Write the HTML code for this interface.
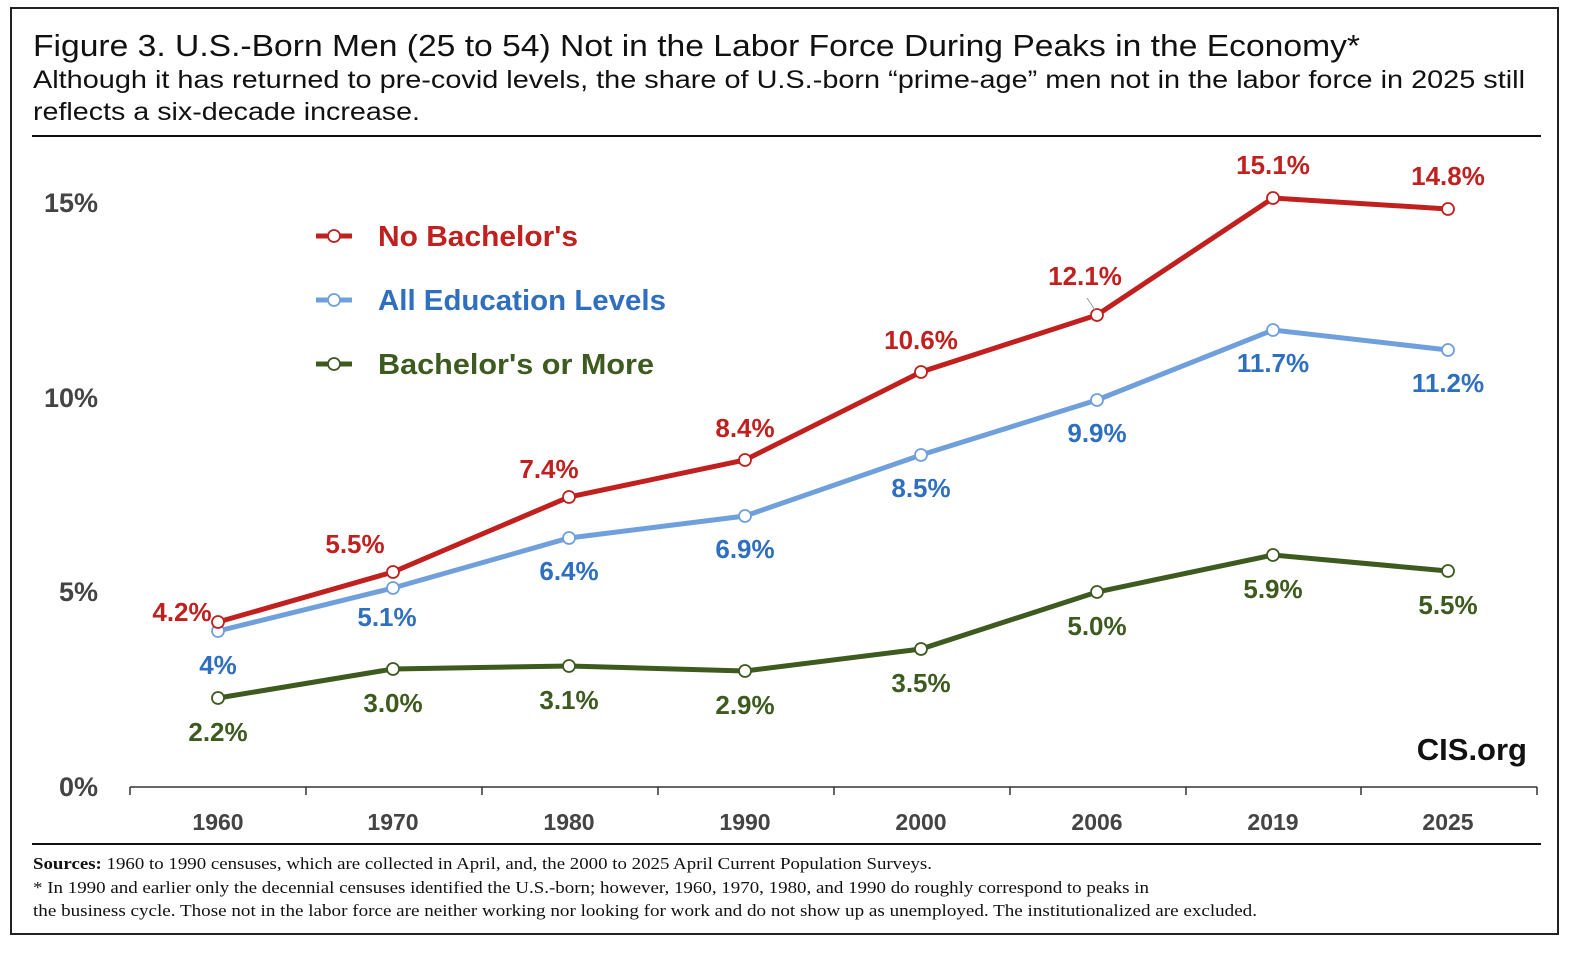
<!DOCTYPE html>
<html><head><meta charset="utf-8"><style>
html,body{margin:0;padding:0;background:#fff;}
</style></head><body>
<svg width="1574" height="948" xmlns="http://www.w3.org/2000/svg" font-family="Liberation Sans, sans-serif">
<rect x="0" y="0" width="1574" height="948" fill="#fff"/>
<rect x="11" y="8" width="1547" height="926" fill="none" stroke="#222" stroke-width="2"/>
<text x="33" y="56" font-size="31" fill="#111" textLength="1327" lengthAdjust="spacingAndGlyphs">Figure 3. U.S.-Born Men (25 to 54) Not in the Labor Force During Peaks in the Economy*</text>
<text x="33" y="88" font-size="25" fill="#111" textLength="1492" lengthAdjust="spacingAndGlyphs">Although it has returned to pre-covid levels, the share of U.S.-born “prime-age” men not in the labor force in 2025 still</text>
<text x="33" y="120" font-size="25" fill="#111" textLength="387" lengthAdjust="spacingAndGlyphs">reflects a six-decade increase.</text>
<line x1="32" y1="136" x2="1541" y2="136" stroke="#111" stroke-width="2"/>
<g font-size="27" font-weight="bold" fill="#444" text-anchor="end">
<text x="98" y="212">15%</text><text x="98" y="407">10%</text><text x="98" y="601">5%</text><text x="98" y="796">0%</text>
</g>
<line x1="130" y1="787" x2="1537" y2="787" stroke="#333" stroke-width="1.5"/>
<g stroke="#333" stroke-width="1.5">
<line x1="130" y1="787" x2="130" y2="795"/><line x1="306" y1="787" x2="306" y2="795"/><line x1="482" y1="787" x2="482" y2="795"/><line x1="658" y1="787" x2="658" y2="795"/><line x1="834" y1="787" x2="834" y2="795"/><line x1="1010" y1="787" x2="1010" y2="795"/><line x1="1186" y1="787" x2="1186" y2="795"/><line x1="1361" y1="787" x2="1361" y2="795"/><line x1="1537" y1="787" x2="1537" y2="795"/>
</g>
<g font-size="23" font-weight="bold" fill="#444" text-anchor="middle">
<text x="218" y="830">1960</text><text x="393" y="830">1970</text><text x="569" y="830">1980</text><text x="745" y="830">1990</text><text x="921" y="830">2000</text><text x="1097" y="830">2006</text><text x="1273" y="830">2019</text><text x="1448" y="830">2025</text>
</g>
<polyline fill="none" stroke="#3d5a1f" stroke-width="5" points="218,698 393,669 569,666 745,671 921,649 1097,592 1273,555 1448,571"/>
<polyline fill="none" stroke="#6fa0dc" stroke-width="5" points="218,631 393,588 569,538 745,516 921,455 1097,400 1273,330 1448,350"/>
<polyline fill="none" stroke="#c0201e" stroke-width="5" points="218,622 393,572 569,497 745,460 921,372 1097,315 1273,198 1448,209"/>
<g fill="#fff" stroke-width="1.8">
<g stroke="#3d5a1f"><circle cx="218" cy="698" r="6"/><circle cx="393" cy="669" r="6"/><circle cx="569" cy="666" r="6"/><circle cx="745" cy="671" r="6"/><circle cx="921" cy="649" r="6"/><circle cx="1097" cy="592" r="6"/><circle cx="1273" cy="555" r="6"/><circle cx="1448" cy="571" r="6"/></g>
<g stroke="#6fa0dc"><circle cx="218" cy="631" r="6"/><circle cx="393" cy="588" r="6"/><circle cx="569" cy="538" r="6"/><circle cx="745" cy="516" r="6"/><circle cx="921" cy="455" r="6"/><circle cx="1097" cy="400" r="6"/><circle cx="1273" cy="330" r="6"/><circle cx="1448" cy="350" r="6"/></g>
<g stroke="#c0201e"><circle cx="218" cy="622" r="6"/><circle cx="393" cy="572" r="6"/><circle cx="569" cy="497" r="6"/><circle cx="745" cy="460" r="6"/><circle cx="921" cy="372" r="6"/><circle cx="1097" cy="315" r="6"/><circle cx="1273" cy="198" r="6"/><circle cx="1448" cy="209" r="6"/></g>
</g>
<line x1="1087" y1="298" x2="1095" y2="310" stroke="#999" stroke-width="1"/>
<g font-size="26" font-weight="bold" text-anchor="middle">
<g fill="#c0201e">
<text x="182" y="621">4.2%</text><text x="355" y="553">5.5%</text><text x="549" y="478">7.4%</text><text x="745" y="437">8.4%</text><text x="921" y="349">10.6%</text><text x="1085" y="285">12.1%</text><text x="1273" y="174">15.1%</text><text x="1448" y="185">14.8%</text>
</g>
<g fill="#2f6fc0">
<text x="218" y="674">4%</text><text x="387" y="626">5.1%</text><text x="569" y="580">6.4%</text><text x="745" y="558">6.9%</text><text x="921" y="497">8.5%</text><text x="1097" y="442">9.9%</text><text x="1273" y="372">11.7%</text><text x="1448" y="392">11.2%</text>
</g>
<g fill="#3d5a1f">
<text x="218" y="741">2.2%</text><text x="393" y="712">3.0%</text><text x="569" y="709">3.1%</text><text x="745" y="714">2.9%</text><text x="921" y="692">3.5%</text><text x="1097" y="635">5.0%</text><text x="1273" y="598">5.9%</text><text x="1448" y="614">5.5%</text>
</g>
</g>
<g font-size="29" font-weight="bold">
<line x1="316" y1="236" x2="352" y2="236" stroke="#c0201e" stroke-width="5"/><circle cx="334" cy="236" r="6" fill="#fff" stroke="#c0201e" stroke-width="1.8"/>
<text x="378" y="246" fill="#c0201e" textLength="200" lengthAdjust="spacingAndGlyphs">No Bachelor's</text>
<line x1="316" y1="300" x2="352" y2="300" stroke="#6fa0dc" stroke-width="5"/><circle cx="334" cy="300" r="6" fill="#fff" stroke="#6fa0dc" stroke-width="1.8"/>
<text x="378" y="310" fill="#2f6fc0" textLength="288" lengthAdjust="spacingAndGlyphs">All Education Levels</text>
<line x1="316" y1="364" x2="352" y2="364" stroke="#3d5a1f" stroke-width="5"/><circle cx="334" cy="364" r="6" fill="#fff" stroke="#3d5a1f" stroke-width="1.8"/>
<text x="378" y="374" fill="#3d5a1f" textLength="276" lengthAdjust="spacingAndGlyphs">Bachelor's or More</text>
</g>
<text x="1527" y="760" font-size="31" font-weight="bold" fill="#111" text-anchor="end">CIS.org</text>
<line x1="32" y1="844" x2="1541" y2="844" stroke="#111" stroke-width="2"/>
<g font-family="Liberation Serif, serif" font-size="17" fill="#111">
<text x="33" y="869" textLength="899" lengthAdjust="spacingAndGlyphs"><tspan font-weight="bold">Sources:</tspan> 1960 to 1990 censuses, which are collected in April, and, the 2000 to 2025 April Current Population Surveys.</text>
<text x="33" y="893" textLength="1116" lengthAdjust="spacingAndGlyphs">* In 1990 and earlier only the decennial censuses identified the U.S.-born; however, 1960, 1970, 1980, and 1990 do roughly correspond to peaks in</text>
<text x="33" y="916" textLength="1224" lengthAdjust="spacingAndGlyphs">the business cycle. Those not in the labor force are neither working nor looking for work and do not show up as unemployed. The institutionalized are excluded.</text>
</g>
</svg>
</body></html>
